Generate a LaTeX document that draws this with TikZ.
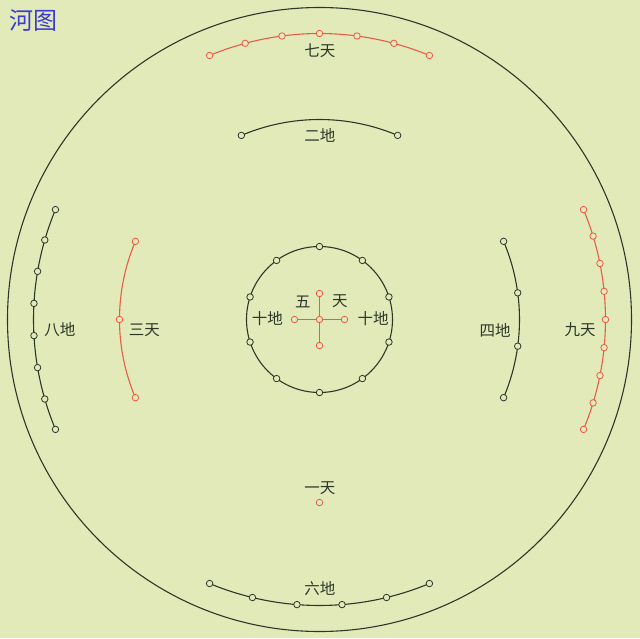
\documentclass[tikz,border=0pt]{standalone}
\usepackage{fontspec}
\newfontfamily\cjk{Noto Sans CJK SC}
\definecolor{bgcol}{RGB}{226,234,186}
\definecolor{tianred}{RGB}{232,92,72}
\definecolor{diink}{RGB}{45,55,40}
\definecolor{titleblue}{RGB}{60,60,210}
\tikzset{
  pt/.style={circle,draw,fill=bgcol,inner sep=0pt,minimum size=6.5pt,line width=0.8pt},
  lbl/.style={font=\cjk\fontsize{15.5}{15.5}\selectfont,inner sep=0pt,text=diink},
  ring/.style={line width=1.1pt},
}
% arc of dots round the centre: \dotarc{colour}{radius}{first angle}{step}{last index}{name}
\def\dotarc#1#2#3#4#5#6{\foreach \i in {0,...,#5} \node[pt,draw=#1] (#6\i) at ({#3+\i*#4}:#2) {};}

\begin{document}
\begin{tikzpicture}[x=1pt,y=1pt]
			%%%%% background %%%%%
			\fill[bgcol] (-319.5,-318.5) rectangle (320.5,319.5);
			\useasboundingbox (-319.5,-318.5) rectangle (320.5,319.5);
			
			\node[font=\cjk\fontsize{24}{24}\selectfont,text=titleblue,inner sep=0pt] (title) at (-285.5,298.5) {河图};
			
			\draw[diink,ring] (0,0) circle (312);
			
			%%%%% outer arcs %%%%%
			\draw[tianred,ring] (67.4:286) arc (67.4:112.6:286);
			\draw[diink,ring] (-112.6:286) arc (-112.6:-67.4:286);
			\draw[diink,ring] (157.4:286) arc (157.4:202.6:286);
			\draw[tianred,ring] (-22.6:286) arc (-22.6:22.6:286);
			
			\dotarc{tianred}{286}{67.4}{7.533}{6}{qi}
			\dotarc{diink}{286}{-112.6}{9.04}{5}{liu}
			\dotarc{diink}{286}{157.4}{6.457}{7}{ba}
			\dotarc{tianred}{286}{-22.6}{5.65}{8}{jiu}
			
			%%%%% inner arcs %%%%%
			\draw[diink,ring] (67:200) arc (67:113:200);
			\draw[tianred,ring] (157:200) arc (157:203:200);
			\draw[diink,ring] (-23:200) arc (-23:23:200);
			
			\dotarc{diink}{200}{67}{46}{1}{er}
			\dotarc{tianred}{200}{157}{23}{2}{san}
			\dotarc{diink}{200}{-23}{15.333}{3}{si}
			
			\node[pt,draw=tianred] (yi) at (0,-183) {};
			
			%%%%% centre %%%%%
			\draw[diink,ring] (0,0) circle (73);
			\dotarc{diink}{73}{90}{36}{9}{shi}
			
			\node[pt,draw=tianred] (wu) at (0,0) {};
			\node[pt,draw=tianred] (wuN) at (0,26) {};
			\node[pt,draw=tianred] (wuS) at (0,-26) {};
			\node[pt,draw=tianred] (wuW) at (-25,0) {};
			\node[pt,draw=tianred] (wuE) at (25,0) {};
			\foreach \e in {N,S,W,E} \draw[tianred,ring] (wu) -- (wu\e);
			
			%%%%% labels %%%%%
			\node[lbl] (lqi) at (0.5,269) {七天};
			\node[lbl] (ler) at (0.5,184.5) {二地};
			\node[lbl] (lba) at (-259.5,-10.5) {八地};
			\node[lbl] (lsan) at (-175,-10.5) {三天};
			\node[lbl] (lsi) at (175.5,-10.5) {四地};
			\node[lbl] (ljiu) at (260.5,-10.5) {九天};
			\node[lbl] (lyi) at (0.5,-168.5) {一天};
			\node[lbl] (lliu) at (0.5,-269.5) {六地};
			\node[lbl] (lwu) at (-16.5,18) {五};
			\node[lbl] (ltian) at (20.5,18) {天};
			\node[lbl] (lshiW) at (-52,0.5) {十地};
			\node[lbl] (lshiE) at (53.5,0.5) {十地};
		\end{tikzpicture}
\end{document}
